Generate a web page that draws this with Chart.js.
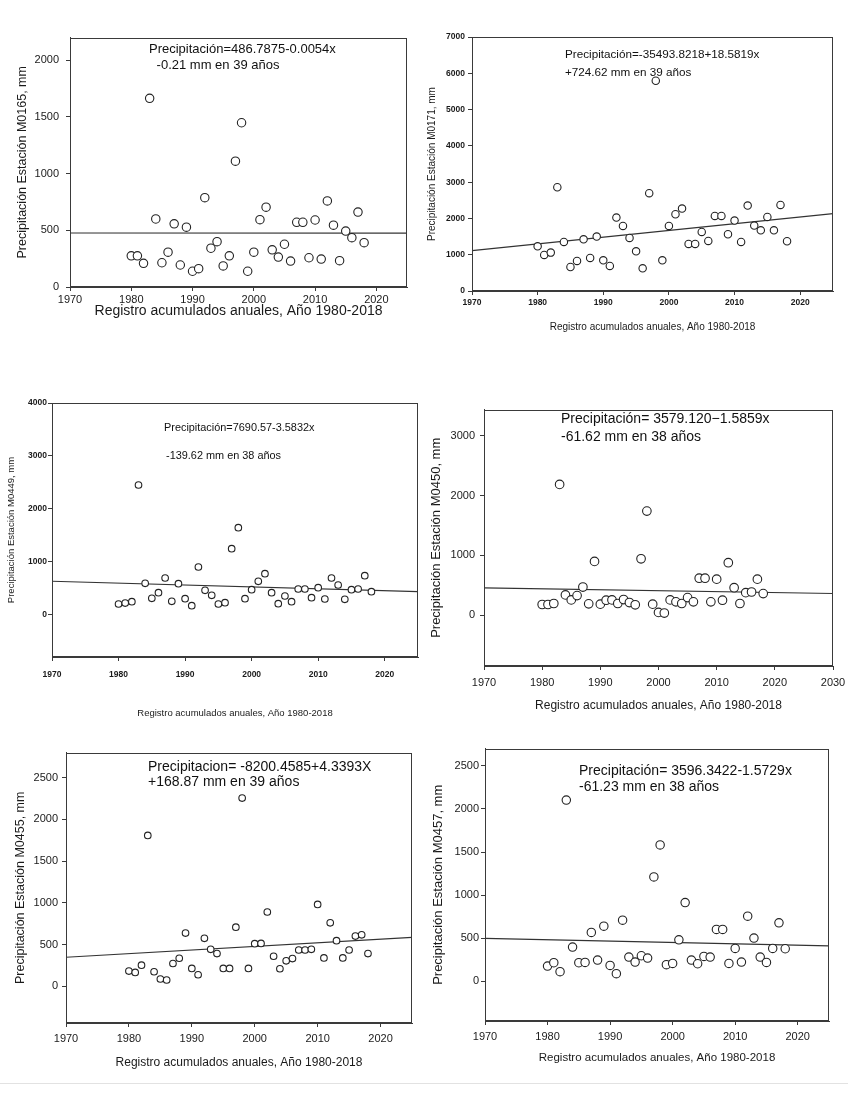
<!DOCTYPE html>
<html>
<head>
<meta charset="utf-8">
<script src="https://cdn.jsdelivr.net/npm/chart.js@4.4.1/dist/chart.umd.min.js"></script>
<style>
  html, body { margin: 0; padding: 0; background: #fff; }
  body { width: 850px; height: 1110px; position: relative; overflow: hidden;
         font-family: "Liberation Sans", Arial, sans-serif; }
  canvas { position: absolute; }
  .eq { position: absolute; white-space: pre; color: #111; line-height: 1.2; }
  .rule { position: absolute; left: 0; top: 1083px; width: 848px; height: 1px; background: #e2e2e2; }
</style>
</head>
<body>
<div class="rule"></div>
<script>
// ---------------- DATA ----------------
const years = [1980,1981,1982,1983,1984,1985,1986,1987,1988,1989,
               1990,1991,1992,1993,1994,1995,1996,1997,1998,1999,
               2000,2001,2002,2003,2004,2005,2006,2007,2008,2009,
               2010,2011,2012,2013,2014,2015,2016,2017,2018];

const m0165 = [275,275,209,1664,600,214,307,557,194,528,
               139,162,788,342,400,186,275,1110,1449,139,
               307,594,704,328,264,377,229,571,571,258,
               591,246,759,545,232,493,435,661,391];

const m0171 = [1233,994,1058,2861,1352,662,828,1426,911,1500,
               846,690,2024,1794,1463,1095,626,2696,5796,846,
               1794,2116,2272,1297,1297,1628,1380,2070,2070,1564,
               1941,1352,2355,1803,1674,2042,1674,2374,1371];

const m0449 = [202,220,246,2450,592,309,416,693,252,586,
               302,170,901,460,365,202,227,1247,1644,302,
               472,630,775,416,208,353,246,485,485,321,
               510,296,693,561,290,472,485,737,435];

const m0450 = [176,176,193,2185,336,253,325,468,187,897,
               182,248,253,193,259,209,171,941,1739,182,
               44,33,253,220,193,292,220,616,616,220,
               600,248,875,457,193,374,385,600,358];

const m0455 = [182,166,253,1808,174,87,75,273,336,637,
               214,138,574,443,392,214,214,708,2255,214,
               510,514,890,360,210,305,332,435,435,443,
               981,340,760,546,340,435,601,617,392];

const m0457 = [177,216,112,2103,397,216,220,567,247,640,
               185,89,710,282,224,297,270,1211,1582,193,
               208,482,914,247,204,289,282,602,602,208,
               382,224,756,502,282,220,382,679,378];

// tick labels
const xTicksA = [1970, 1980, 1990, 2000, 2010, 2020];
const xTicksB = [1970, 1980, 1990, 2000, 2010, 2020, 2030];
const yTicks0165 = [0, 500, 1000, 1500, 2000];
const yTicks0171 = [0, 1000, 2000, 3000, 4000, 5000, 6000, 7000];
const yTicks0449 = [0, 1000, 2000, 3000, 4000];
const yTicks0450 = [0, 1000, 2000, 3000];
const yTicks0455 = [0, 500, 1000, 1500, 2000, 2500];
const yTicks0457 = [0, 500, 1000, 1500, 2000, 2500];

const stationSeries = [m0165, m0171, m0449, m0450, m0455, m0457];
const yTickSets = [yTicks0165, yTicks0171, yTicks0449, yTicks0450, yTicks0455, yTicks0457];
const xTickSets = [xTicksA, xTicksA, xTicksA, xTicksB, xTicksA, xTicksA];
const yTitles = ["Precipitación Estación M0165, mm", "Precipitación Estación M0171, mm",
                 "Precipitación Estación M0449, mm", "Precipitación Estación M0450, mm",
                 "Precipitación Estación M0455, mm", "Precipitación Estación M0457, mm"];
const xTitle = "Registro acumulados anuales, Año 1980-2018";
const eqLine1 = ["Precipitación=486.7875-0.0054x", "Precipitación=-35493.8218+18.5819x",
                 "Precipitación=7690.57-3.5832x", "Precipitación= 3579.120\u22121.5859x",
                 "Precipitacion= -8200.4585+4.3393X", "Precipitación= 3596.3422-1.5729x"];
const eqLine2 = [" -0.21 mm en 39 años", "+724.62 mm en 39 años", "-139.62 mm en 38 años",
                 "-61.62 mm en 38 años", "+168.87 mm en 39 años", "-61.23 mm en 38 años"];
const intercepts = [486.7875, -35493.8218, 7690.57, 3579.120, -8200.4585, 3596.3422];
const slopes     = [-0.0054, 18.5819, -3.5832, -1.5859, 4.3393, -1.5729];

// ---------------- LAYOUT / STYLE ----------------
const layout = [
  {L:70,  T:32,  R:407, B:287,  ymin:0,    ymax:2200, xmin:1970, xmax:2025,
   yt:22,  xt:311,  fsYT:12.5, fsXT:14,   fsTick:11,  tickBold:false, ypad:7, xpad:2,  r:4.2,
   ex1:149, ey1:49, ex2:153, ey2:65, efs:13},
  {L:472, T:37,  R:833, B:291,  ymin:0,    ymax:7000, xmin:1970, xmax:2025,
   yt:432, xt:326,  fsYT:10,   fsXT:10,   fsTick:8.5, tickBold:true,  ypad:3, xpad:2.5, r:3.7,
   ex1:565, ey1:54, ex2:565, ey2:72.5, efs:11.7},
  {L:52,  T:403, R:418, B:657,  ymin:-800, ymax:4000, xmin:1970, xmax:2025,
   yt:12,  xt:712,  fsYT:9.5,  fsXT:9.5,  fsTick:8.5, tickBold:true,  ypad:1, xpad:9,  r:3.3,
   ex1:164, ey1:428, ex2:166, ey2:456, efs:10.9},
  {L:484, T:406, R:833, B:666,  ymin:-853, ymax:3437, xmin:1970, xmax:2030,
   yt:437, xt:705,  fsYT:13,   fsXT:12,   fsTick:11,  tickBold:false, ypad:5, xpad:6,  r:4.3,
   ex1:561, ey1:418, ex2:561, ey2:436, efs:14},
  {L:66,  T:750, R:412, B:1023, ymin:-440, ymax:2800, xmin:1970, xmax:2025,
   yt:20,  xt:1062, fsYT:12.5, fsXT:12,   fsTick:11,  tickBold:false, ypad:4, xpad:5,  r:3.3,
   ex1:148, ey1:766, ex2:148, ey2:781, efs:14},
  {L:485, T:748, R:829, B:1021, ymin:-460, ymax:2700, xmin:1970, xmax:2025,
   yt:439, xt:1057, fsYT:13,   fsXT:11.5, fsTick:11,  tickBold:false, ypad:2, xpad:5,  r:4.2,
   ex1:579, ey1:770, ex2:579, ey2:786.5, efs:14}
];

const FONT = '"Liberation Sans", Arial, sans-serif';
const INK = '#1a1a1a';
const AXIS = '#3a3a3a';

const framePlugin = {
  id: 'frame',
  afterDatasetsDraw(chart) {
    const a = chart.chartArea, ctx = chart.ctx;
    ctx.save();
    ctx.strokeStyle = AXIS;
    ctx.lineWidth = 1;
    ctx.strokeRect(Math.round(a.left) + 0.5, Math.round(a.top) + 0.5,
                   Math.round(a.right) - Math.round(a.left) - 1, Math.round(a.bottom) - Math.round(a.top) - 1);
    ctx.restore();
  }
};

function fixedTicks(values) {
  return (scale) => { scale.ticks = values.map(v => ({value: v})); };
}

function makePanel(i) {
  const p = layout[i];
  const left = Math.round(p.yt - 0.6 * p.fsYT);
  const top = Math.round(p.T - 8);
  const right = Math.round(p.R + 22);
  const bottom = Math.round(p.xt + 0.6 * p.fsXT + 1);
  const W = right - left, H = bottom - top;
  const c = document.createElement('canvas');
  c.width = W; c.height = H;
  c.style.left = left + 'px'; c.style.top = top + 'px';
  c.style.width = W + 'px'; c.style.height = H + 'px';
  document.body.appendChild(c);

  const series = stationSeries[i];
  const pts = years.map((y, k) => ({x: y, y: series[k]}));
  const fit = [p.xmin, p.xmax].map(x => ({x: x, y: intercepts[i] + slopes[i] * x}));

  const tickFont = {family: FONT, size: p.fsTick, weight: p.tickBold ? 'bold' : 'normal'};
  const plain = (v) => String(v);

  new Chart(c, {
    type: 'scatter',
    data: {
      datasets: [
        {type: 'line', data: fit, borderColor: '#333', borderWidth: 1.2, pointRadius: 0,
         fill: false, tension: 0, clip: false, order: 2},
        {data: pts, pointRadius: p.r, pointHoverRadius: p.r, pointBackgroundColor: '#fff',
         pointBorderColor: '#222', pointBorderWidth: 1.1, clip: false, order: 1}
      ]
    },
    options: {
      responsive: false, animation: false, devicePixelRatio: 1,
      layout: {padding: {left: 0, top: p.T - top, right: right - p.R, bottom: 0}},
      plugins: {legend: {display: false}, tooltip: {enabled: false}},
      scales: {
        x: {
          type: 'linear', min: p.xmin, max: p.xmax, bounds: 'data',
          afterBuildTicks: fixedTicks(xTickSets[i]),
          afterFit: (s) => { s.height = bottom - p.B; },
          ticks: {padding: p.xpad, color: INK, font: tickFont,
                  maxRotation: 0, minRotation: 0, autoSkip: false, callback: plain},
          grid: {drawOnChartArea: false, drawTicks: true, tickLength: 4, tickColor: AXIS},
          border: {display: true, color: AXIS, width: 1},
          title: {display: true, text: xTitle, color: INK, padding: 0,
                  font: {family: FONT, size: p.fsXT}}
        },
        y: {
          type: 'linear', min: p.ymin, max: p.ymax, bounds: 'data',
          afterBuildTicks: fixedTicks(yTickSets[i]),
          afterFit: (s) => { s.width = p.L - left; },
          ticks: {padding: p.ypad, color: INK, font: tickFont, autoSkip: false, callback: plain},
          grid: {drawOnChartArea: false, drawTicks: true, tickLength: 4, tickColor: AXIS},
          border: {display: true, color: AXIS, width: 1},
          title: {display: true, text: yTitles[i], color: INK, padding: 0,
                  font: {family: FONT, size: p.fsYT}}
        }
      }
    },
    plugins: [framePlugin]
  });

  [[eqLine1[i], p.ex1, p.ey1], [eqLine2[i], p.ex2, p.ey2]].forEach(([txt, x, y]) => {
    const d = document.createElement('div');
    d.className = 'eq';
    d.textContent = txt;
    d.style.fontSize = p.efs + 'px';
    d.style.left = x + 'px';
    d.style.top = (y - 0.6 * p.efs) + 'px';
    document.body.appendChild(d);
  });
}

for (let i = 0; i < layout.length; i++) makePanel(i);
</script>
</body>
</html>
